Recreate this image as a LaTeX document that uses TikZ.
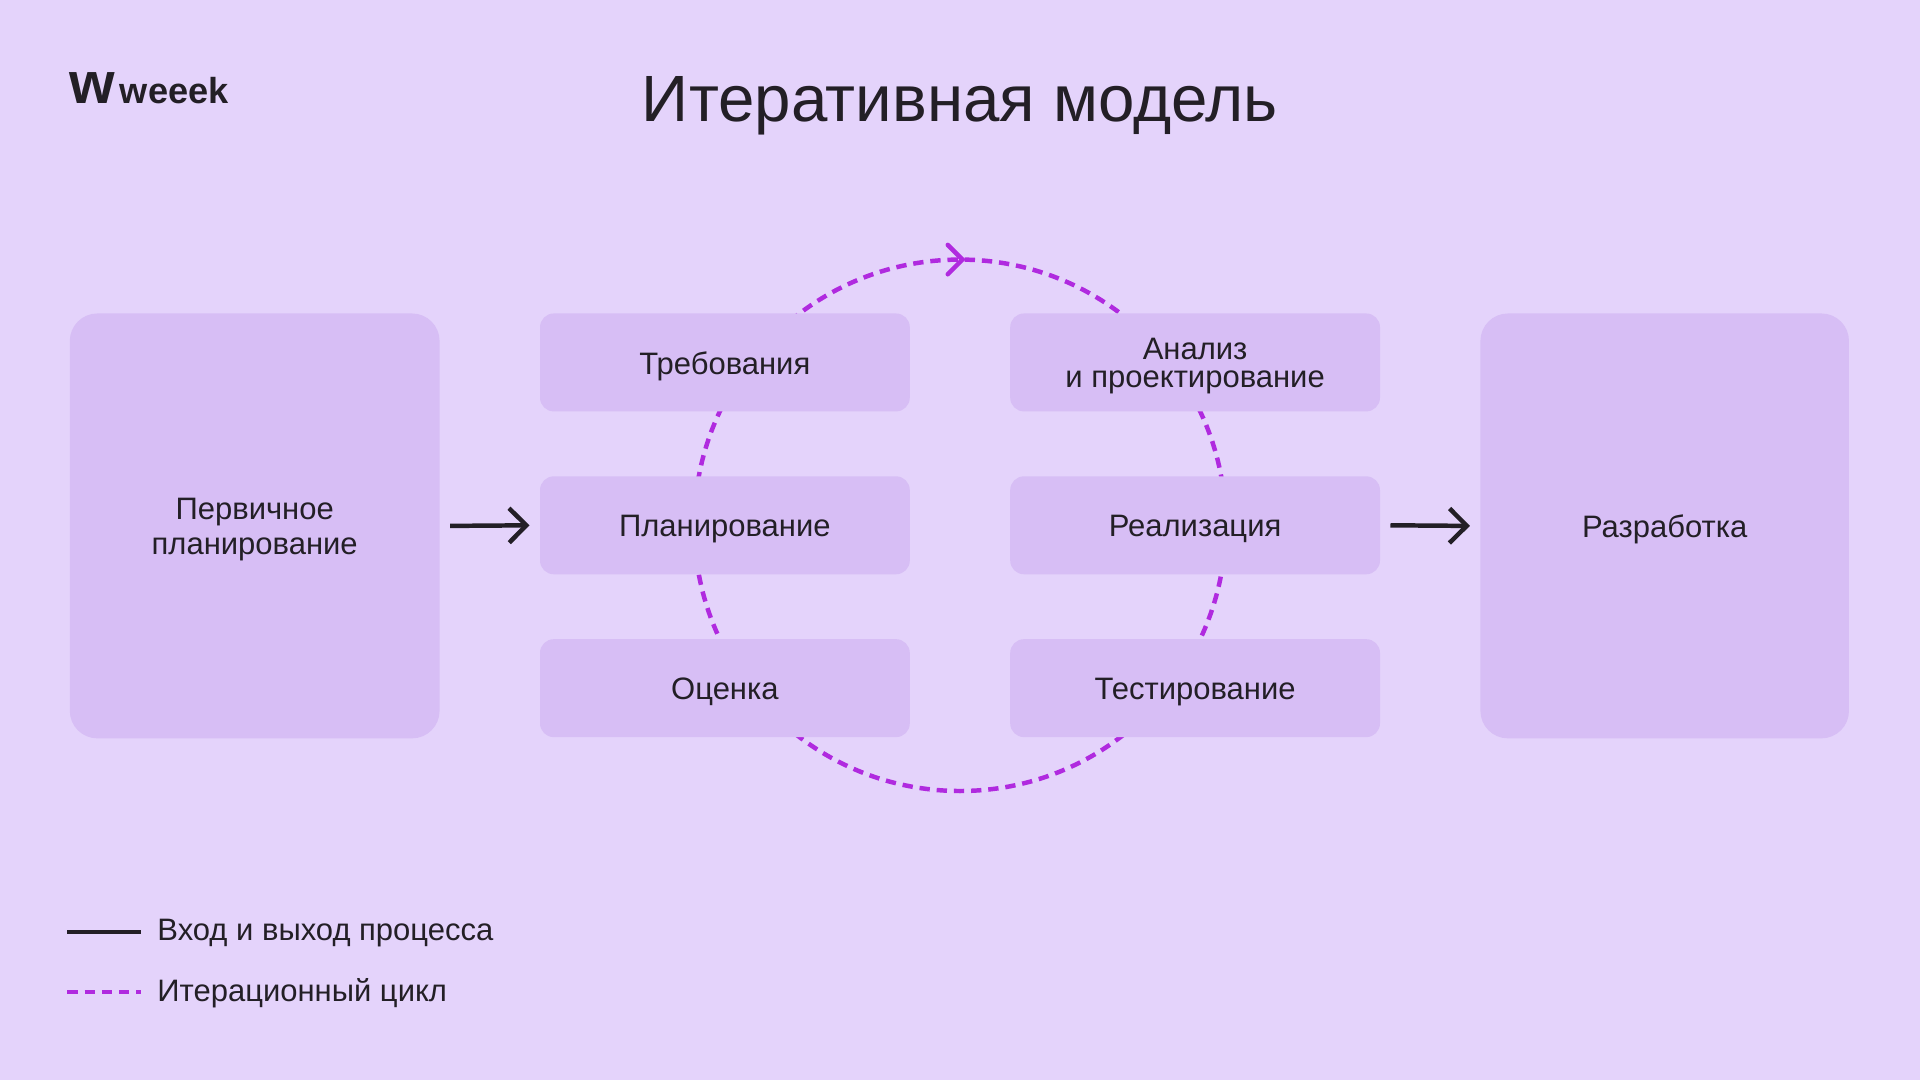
\documentclass[tikz,border=0pt]{standalone}
\usepackage{fontspec}
\setmainfont{Liberation Sans}
\usetikzlibrary{arrows.meta}
\definecolor{bg}{HTML}{E4D3FB}
\definecolor{box}{HTML}{D7BEF5}
\definecolor{ink}{HTML}{231F26}
\definecolor{cyc}{HTML}{B02ADF}
\begin{document}
\begin{tikzpicture}[x=0.0125cm,y=-0.0125cm,
  bx/.style={fill=box,rounded corners=4pt,font=\fontsize{9}{10}\selectfont,text=ink,align=center,inner sep=0},
  big/.style={bx,rounded corners=8pt},
  lbl/.style={font=\fontsize{9}{10}\selectfont,text=ink,align=center},
  flow/.style={draw=ink,line width=1.3pt,-{Straight Barb[length=5pt,width=10pt]}},
  cycl/.style={draw=cyc,line width=1.3pt,dash pattern=on 3pt off 2pt}]
\fill[bg] (0,0) rectangle (1568,882);
\useasboundingbox (0,0) rectangle (1568,882);
\node[font=\fontsize{19}{24}\selectfont,text=ink] (title) at (784,86) {Итеративная модель};
\node[text=ink,anchor=west,inner sep=0] (logo) at (56,72) {\fontsize{17}{17}\selectfont\bfseries w\hspace{1.5pt}\fontsize{10.5}{12}\selectfont weeek};
% cycle
\draw[cycl] (784,429) circle (217);
\coordinate (tip) at (786,212);
\draw[cyc,line width=1.3pt,line cap=round] (774,200) -- (tip) -- (774,224);
% boxes
\node[big,minimum width=302*0.0125cm,minimum height=347*0.0125cm] (pp) at (208,429.5) {};
\node[big,minimum width=301*0.0125cm,minimum height=347*0.0125cm] (dev) at (1359.5,429.5) {};
\node[lbl] at ([yshift=-1pt]pp.center) {Первичное\\планирование};
\node[lbl] at ([yshift=-1pt]dev.center) {Разработка};
\foreach \n/\x/\y in {req/592/296, plan/592/429, est/592/562, an/976/296, impl/976/429, test/976/562}
  \node[bx,minimum width=302*0.0125cm,minimum height=80*0.0125cm] (\n) at (\x,\y) {};
\foreach \n/\t in {req/Требования, plan/Планирование, est/Оценка, an/{Анализ\\[-2pt]и проектирование}, impl/Реализация, test/Тестирование}
  \node[lbl] at ([yshift=-1pt]\n.center) {\t};
\draw[flow] ([xshift=8*0.0125cm]pp.east) -- ([xshift=-8*0.0125cm]plan.west);
\draw[flow] ([xshift=8*0.0125cm]impl.east) -- ([xshift=-8*0.0125cm]dev.west);
% legend
\coordinate (l1a) at (55,761); \coordinate (l1b) at (115,761);
\coordinate (l2a) at (55,810); \coordinate (l2b) at (115,810);
\draw[ink,line width=1.3pt] (l1a) -- (l1b);
\draw[cycl] (l2a) -- (l2b);
\node[anchor=west,font=\fontsize{9}{10}\selectfont,text=ink,inner sep=0] (t1) at (128,762) {Вход и выход процесса};
\node[anchor=west,font=\fontsize{9}{10}\selectfont,text=ink,inner sep=0] (t2) at (128,811) {Итерационный цикл};
\end{tikzpicture}
\end{document}
